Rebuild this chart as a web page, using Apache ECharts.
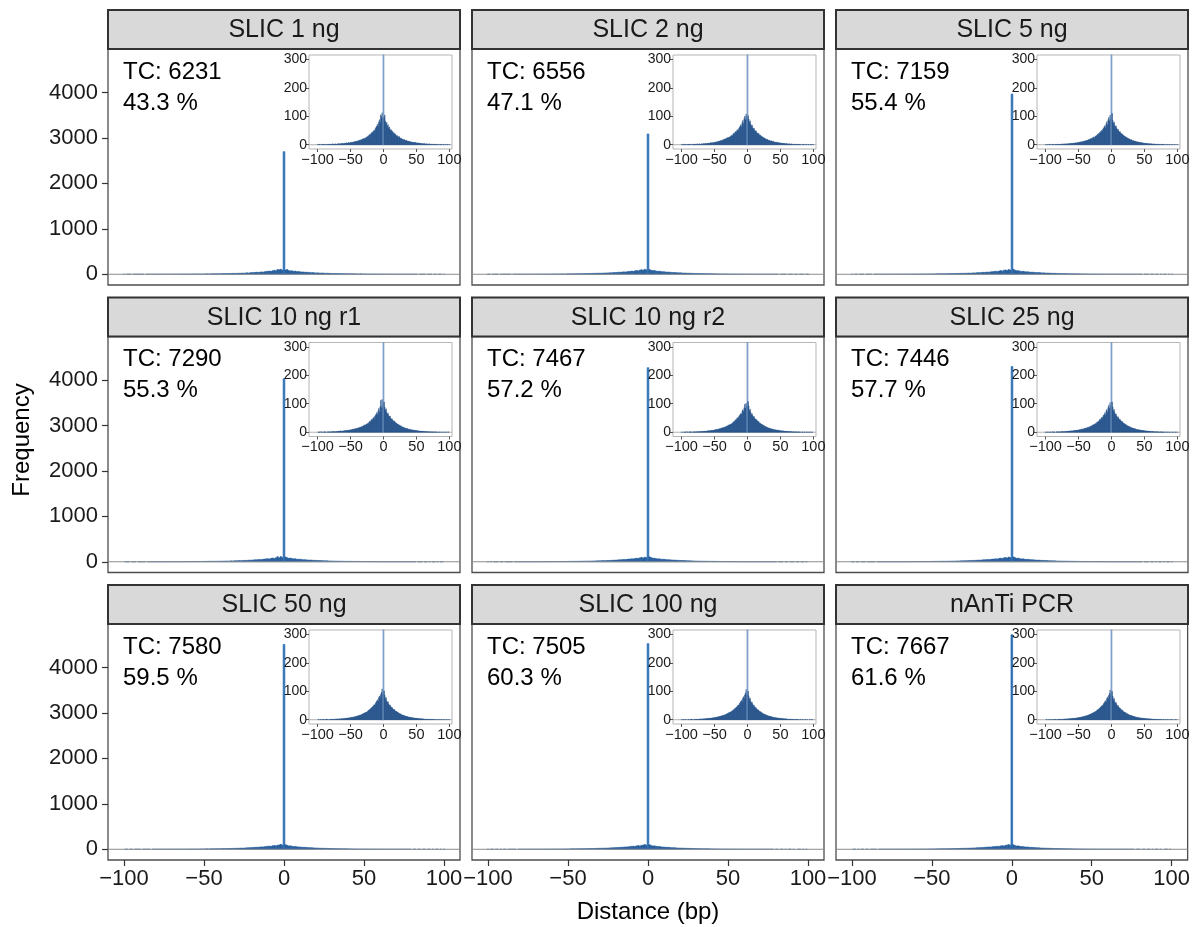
<!DOCTYPE html>
<html><head><meta charset="utf-8">
<script src="https://cdn.jsdelivr.net/npm/echarts@6/dist/echarts.min.js"></script>
<style>html,body{margin:0;padding:0;background:#fff}#chart{width:1193px;height:927px}</style>
</head><body><div id="chart"></div>
<script>
// ---------------- DATA ----------------
const panelNames = ['SLIC 1 ng','SLIC 2 ng','SLIC 5 ng','SLIC 10 ng r1','SLIC 10 ng r2','SLIC 25 ng','SLIC 50 ng','SLIC 100 ng','nAnTi PCR'];
const tcCounts = [6231,6556,7159,7290,7467,7446,7580,7505,7667];
const pctLabels = ['43.3 %','47.1 %','55.4 %','55.3 %','57.2 %','57.7 %','59.5 %','60.3 %','61.6 %'];
const distanceStart = -100; // first bin (bp); bins are 1 bp wide
const mainXTicks = [-100,-50,0,50,100];
const mainYTicks = [0,1000,2000,3000,4000];
const insetXTicks = [-100,-50,0,50,100];
const insetYTicks = [0,100,200,300];

const freq_slic_1ng = [
1,0,2,1,1,0,1,2,1,1, 1,2,1,0,2,1,1,2,1,2, 2,1,2,3,1,2,2,3,2,1, 3,2,4,3,2,4,3,5,4,3,
5,4,6,5,7,5,6,8,6,7, 8,7,9,8,10,9,11,10,12,11, 13,12,15,14,16,15,18,17,20,19, 22,20,24,23,27,25,29,32,28,35,
38,36,42,45,40,48,52,47,58,62, 66,72,64,80,88,76,105,98,112,92,
2698,
95,104,82,74,78,65,70,58,62,54, 50,52,45,47,40,42,36,38,33,30, 32,28,26,29,24,22,23,20,19,18, 17,18,15,14,16,13,12,13,11,10,
11,9,10,8,9,7,8,9,7,6, 7,5,6,6,5,4,5,4,3,4, 3,4,3,2,3,2,3,2,2,3, 2,1,2,2,1,2,1,2,1,1,
2,1,1,0,1,2,1,1,0,1, 1,1,0,1,1,0,1,1,0,1];
const freq_slic_2ng = [
1,1,0,2,1,1,2,0,1,1, 2,1,1,2,1,0,2,1,2,1, 2,2,1,2,3,2,1,3,2,2, 3,3,2,4,3,3,5,4,3,5,
4,6,5,5,7,6,8,7,6,8, 9,8,10,9,11,10,12,13,12,14, 15,14,16,18,17,19,21,20,23,22, 25,24,27,26,30,29,33,31,36,40,
38,43,46,44,50,53,49,57,61,66, 70,63,78,85,74,92,100,88,108,97,
3088,
102,90,80,84,72,66,69,60,56,58, 51,47,49,43,41,38,40,35,32,33, 30,27,28,25,23,24,21,20,18,19, 17,15,16,14,13,14,12,11,12,10,
9,10,8,9,8,7,8,6,7,6, 5,6,5,4,5,4,4,3,4,3, 3,2,3,3,2,2,3,2,1,2, 2,1,2,1,1,2,1,1,2,1,
1,0,1,1,2,1,0,1,1,1, 0,1,1,0,1,1,1,0,1,1];
const freq_slic_5ng = [
1,0,1,1,0,1,2,1,0,1, 1,1,2,0,1,1,1,2,1,1, 2,1,1,2,2,1,3,2,2,3, 2,3,3,2,4,3,3,4,5,4,
5,4,6,5,5,7,6,6,8,7, 8,9,8,10,9,11,10,12,11,13, 14,13,15,16,15,18,17,19,21,20, 23,22,25,27,24,28,31,29,34,37,
35,40,43,41,47,50,46,55,58,63, 67,60,74,81,70,88,96,84,104,91,
3966,
110,86,76,80,68,63,66,57,53,55, 48,45,46,41,39,36,37,33,30,31, 28,26,26,24,22,22,20,19,17,18, 16,14,15,13,12,13,11,10,11,9,
9,9,8,8,7,7,7,6,6,5, 5,5,4,4,4,4,3,3,3,3, 3,2,2,3,2,2,2,1,2,2, 1,2,1,1,1,2,1,1,1,1,
1,0,1,1,1,0,1,1,0,1, 1,0,1,0,1,1,0,1,0,1];
const freq_slic_10ng_r1 = [
0,1,1,1,0,2,1,1,0,1, 1,2,1,1,0,1,2,1,1,2, 1,2,2,1,3,2,2,1,3,2, 3,2,4,3,3,5,3,4,4,5,
4,6,5,7,5,6,8,6,7,8, 9,8,9,11,10,10,12,11,13,12, 14,15,14,17,16,18,17,20,19,22, 24,23,26,25,29,27,31,30,35,38,
36,41,45,42,48,52,47,56,60,64, 69,62,76,83,72,90,112,86,115,94,
4031,
106,88,78,82,70,64,67,58,55,57, 50,46,47,42,40,37,39,34,31,32, 29,26,27,25,22,23,21,19,18,18, 16,15,15,14,12,13,12,10,11,9,
9,10,8,8,7,8,6,7,6,6, 5,5,5,4,4,4,3,4,3,3, 3,2,3,2,2,3,2,1,2,2, 1,2,1,2,1,1,1,2,1,1,
1,1,0,1,1,1,0,1,1,0, 1,0,1,1,0,1,0,1,1,0];
const freq_slic_10ng_r2 = [
1,0,1,0,1,1,1,0,2,1, 0,1,1,2,1,1,0,1,2,1, 1,2,1,2,2,1,2,3,2,2, 2,3,3,3,2,4,3,4,3,5,
4,5,5,6,5,6,7,6,7,7, 8,9,9,10,9,11,10,12,12,13, 14,14,16,15,17,17,19,18,21,21, 23,24,26,25,28,28,30,31,34,37,
37,40,44,43,48,51,49,55,59,62, 66,63,73,79,74,86,98,85,102,93,
4271,
108,92,77,81,70,63,65,58,54,55, 49,46,46,42,40,37,38,33,31,31, 28,27,26,24,23,22,20,19,18,17, 16,15,14,14,12,12,11,11,10,9,
9,9,8,8,7,7,6,7,6,5, 5,5,4,5,4,3,4,3,3,3, 2,3,2,2,3,2,2,1,2,2, 1,1,2,1,1,1,2,1,1,1,
0,1,1,1,0,1,1,0,1,1, 1,0,1,1,0,1,1,0,1,0];
const freq_slic_25ng = [
1,1,0,1,1,0,1,1,1,0, 1,2,1,1,1,0,1,2,1,1, 2,1,2,1,2,2,3,2,1,3, 2,3,2,4,3,3,4,3,5,4,
5,4,6,5,6,6,7,7,6,8, 8,8,10,9,10,11,10,12,11,13, 13,15,14,16,17,16,19,18,20,22, 22,25,24,27,26,29,31,30,35,36,
38,39,45,42,47,52,48,54,60,61, 68,61,75,80,71,87,95,83,104,90,
4296,
106,89,75,80,69,62,64,57,52,54, 48,45,45,41,39,36,37,32,30,30, 28,26,25,23,22,21,20,18,17,17, 15,15,14,13,12,12,11,10,10,9,
8,9,8,7,7,7,6,6,6,5, 5,4,5,4,4,3,4,3,3,3, 2,3,2,2,2,2,1,2,2,1, 2,1,1,1,2,1,1,1,1,1,
1,0,1,1,1,0,1,1,0,1, 0,1,1,0,1,0,1,1,0,1];
const freq_slic_50ng = [
0,1,1,0,1,1,0,1,1,1, 1,0,1,1,2,1,1,0,1,2, 1,1,2,2,1,2,2,1,3,2, 2,3,2,3,3,2,4,3,3,4,
4,4,5,5,6,5,6,6,7,7, 7,8,9,8,10,9,10,11,11,12, 13,13,15,14,16,17,16,19,19,21, 22,24,23,26,27,26,30,32,33,36,
37,40,42,45,46,50,53,51,58,62, 66,70,64,78,83,76,89,96,108,92,
4510,
101,86,74,78,66,61,63,55,51,52, 46,44,43,39,37,35,35,31,29,29, 27,25,24,22,21,20,19,17,16,16, 15,14,13,12,12,11,10,10,9,9,
8,8,7,7,7,6,6,5,6,5, 4,5,4,4,3,4,3,3,3,2, 3,2,2,2,2,1,2,2,1,2, 1,1,2,1,1,1,1,1,1,0,
1,1,0,1,1,0,1,1,0,1, 1,0,1,0,1,1,0,1,0,1];
const freq_slic_100ng = [
1,0,1,1,0,1,1,0,1,0, 1,1,0,1,1,2,1,1,0,1, 2,1,1,2,2,1,2,2,2,3, 2,2,3,3,2,3,4,3,4,4,
4,5,4,5,6,5,6,7,6,7, 8,7,9,9,9,10,11,10,12,12, 13,14,14,15,16,17,17,18,20,21, 22,23,25,25,27,28,29,31,33,35,
37,39,41,44,45,49,52,50,57,60, 64,68,63,75,81,74,87,94,106,90,
4526,
100,84,72,76,65,60,61,54,50,51, 45,43,42,38,36,34,34,30,28,28, 26,24,23,21,20,19,18,17,16,15, 14,13,13,12,11,11,10,9,9,8,
8,7,7,7,6,6,6,5,5,5, 4,4,4,4,3,3,3,3,3,2, 2,2,2,2,2,2,1,2,1,1, 1,1,1,1,1,1,1,1,0,1,
1,0,1,1,0,1,0,1,1,0, 1,0,0,1,1,0,1,0,1,0];
const freq_nanti_pcr = [
0,1,1,0,1,0,1,1,0,1, 1,0,1,1,1,2,0,1,1,1, 1,2,1,1,2,2,1,2,2,3, 2,2,3,2,3,3,3,4,3,4,
4,5,4,5,5,6,5,6,7,7, 7,8,8,9,9,10,10,11,11,12, 13,13,14,15,15,17,17,18,19,21, 21,23,24,25,26,28,29,30,33,35,
36,38,41,43,45,48,51,49,56,59, 63,67,62,74,80,73,85,93,104,89,
4723,
99,83,71,75,64,59,60,53,49,50, 44,42,41,37,35,33,33,29,27,27, 25,23,22,21,19,18,17,16,15,15, 14,13,12,11,11,10,10,9,8,8,
7,7,7,6,6,6,5,5,5,4, 4,4,4,3,3,3,3,3,2,3, 2,2,2,2,1,2,2,1,2,1, 1,1,1,1,1,1,0,1,1,1,
0,1,1,0,1,1,0,1,0,1, 1,0,1,0,0,1,1,0,1,0];

const panelFreqs = [freq_slic_1ng,freq_slic_2ng,freq_slic_5ng,freq_slic_10ng_r1,freq_slic_10ng_r2,freq_slic_25ng,freq_slic_50ng,freq_slic_100ng,freq_nanti_pcr];

// ---------------- LAYOUT ----------------
const FONT = '"Liberation Sans", Arial, Helvetica, sans-serif';
const colLeft = [108, 472, 836], panelW = 352;
const rowTop = [10, 297.5, 585], stripH = 39, plotH = 236;
const inset = {dx: 201, dy: 6, w: 143, h: 94};
const mainX = {min: -110, max: 110};
const mainY = {min: -236, max: 4959};
const insX = {min: -113, max: 104};
const insY = {min: -15, max: 315};

const minusFmt = v => (v < 0 ? '\u2212' + Math.abs(v) : String(v));
const plainFmt = v => String(v);

function makeRender(fill, spikeFill, lw, spikeLw) {
  return function (params, api) {
    const x = api.value(0), y = api.value(1);
    if (!y) return null;
    const a = api.coord([x - 0.5, y]);
    const b = api.coord([x + 0.5, 0]);
    const cs = params.coordSys;
    const r = echarts.graphic.clipRectByRect(
      {x: a[0], y: a[1], width: b[0] - a[0], height: b[1] - a[1]},
      {x: cs.x, y: cs.y, width: cs.width, height: cs.height});
    if (!r) return null;
    const sp = x === 0;
    return {type: 'rect', shape: r,
      style: {fill: sp ? spikeFill : fill, stroke: sp ? spikeFill : fill, lineWidth: sp ? spikeLw : lw}};
  };
}

const grids = [], xAxes = [], yAxes = [], series = [], graphics = [];

panelNames.forEach((name, i) => {
  const r = Math.floor(i / 3), c = i % 3;
  const left = colLeft[c], top = rowTop[r] + stripH;
  const isBottom = r === 2, isLeft = c === 0;
  const data = panelFreqs[i].map((v, k) => [distanceStart + k, v]);

  // main panel
  grids.push({left: left, top: top, width: panelW, height: plotH, show: true,
    borderColor: '#4d4d4d', borderWidth: 1.3, backgroundColor: 'transparent'});
  xAxes.push({type: 'value', gridIndex: i, min: mainX.min, max: mainX.max, position: 'bottom',
    axisLine: {show: false, onZero: false}, splitLine: {show: false},
    axisTick: {show: isBottom, customValues: mainXTicks, length: 6, lineStyle: {color: '#333', width: 1.2}},
    axisLabel: {show: isBottom, customValues: mainXTicks, formatter: minusFmt, fontSize: 22, fontFamily: FONT, color: '#1a1a1a', margin: 8}});
  yAxes.push({type: 'value', gridIndex: i, min: mainY.min, max: mainY.max, position: 'left',
    axisLine: {show: false, onZero: false}, splitLine: {show: false},
    axisTick: {show: isLeft, customValues: mainYTicks, length: 6, lineStyle: {color: '#333', width: 1.2}},
    axisLabel: {show: isLeft, customValues: mainYTicks, formatter: plainFmt, fontSize: 22, fontFamily: FONT, color: '#1a1a1a', margin: 10}});
  series.push({type: 'custom', xAxisIndex: i, yAxisIndex: i, coordinateSystem: 'cartesian2d',
    data: data, encode: {x: 0, y: 1}, silent: true, z: 3,
    renderItem: makeRender('#245d9c', '#2b6db4', 0.5, 0.8)});
  series.push({type: 'line', xAxisIndex: i, yAxisIndex: i, data: [[mainX.min, 0], [mainX.max, 0]],
    symbol: 'none', silent: true, z: 4, lineStyle: {color: '#8c8c8c', width: 1}});

  // strip
  graphics.push({type: 'rect', shape: {x: left, y: rowTop[r], width: panelW, height: stripH},
    style: {fill: '#d9d9d9', stroke: '#333333', lineWidth: 2}, silent: true, z: 10});
  graphics.push({type: 'text', x: left + panelW / 2, y: rowTop[r] + stripH / 2 + 1,
    style: {text: name, font: '25px ' + FONT, fill: '#1a1a1a', align: 'center', verticalAlign: 'middle',
      textAlign: 'center', textVerticalAlign: 'middle'}, silent: true, z: 11});
  // TC / percent labels
  graphics.push({type: 'text', x: left + 15, y: top + 23,
    style: {text: 'TC: ' + tcCounts[i], font: '24px ' + FONT, fill: '#000', align: 'left', verticalAlign: 'middle',
      textAlign: 'left', textVerticalAlign: 'middle'}, silent: true, z: 11});
  graphics.push({type: 'text', x: left + 15, y: top + 54,
    style: {text: pctLabels[i], font: '24px ' + FONT, fill: '#000', align: 'left', verticalAlign: 'middle',
      textAlign: 'left', textVerticalAlign: 'middle'}, silent: true, z: 11});
});

panelNames.forEach((name, i) => {
  const r = Math.floor(i / 3), c = i % 3;
  const gi = 9 + i;
  const left = colLeft[c] + inset.dx, top = rowTop[r] + stripH + inset.dy;
  const data = panelFreqs[i].map((v, k) => [distanceStart + k, v]);
  grids.push({left: left, top: top, width: inset.w, height: inset.h, show: true,
    borderColor: '#b5b5b5', borderWidth: 1, backgroundColor: '#ffffff', z: 5});
  xAxes.push({type: 'value', gridIndex: gi, min: insX.min, max: insX.max, position: 'bottom',
    axisLine: {show: false, onZero: false}, splitLine: {show: false}, z: 6,
    axisTick: {show: true, customValues: insetXTicks, length: 3, lineStyle: {color: '#555', width: 1}},
    axisLabel: {show: true, customValues: insetXTicks, formatter: minusFmt, fontSize: 14.5, fontFamily: FONT, color: '#1a1a1a', margin: 3}});
  yAxes.push({type: 'value', gridIndex: gi, min: insY.min, max: insY.max, position: 'left',
    axisLine: {show: false, onZero: false}, splitLine: {show: false}, z: 6,
    axisTick: {show: true, customValues: insetYTicks, length: 3, lineStyle: {color: '#555', width: 1}},
    axisLabel: {show: true, customValues: insetYTicks, formatter: plainFmt, fontSize: 14, fontFamily: FONT, color: '#1a1a1a', margin: 2}});
  series.push({type: 'line', xAxisIndex: gi, yAxisIndex: gi, data: [[insX.min, 0], [insX.max, 0]],
    symbol: 'none', silent: true, z: 6, lineStyle: {color: '#b0b0b0', width: 1}});
  series.push({type: 'custom', xAxisIndex: gi, yAxisIndex: gi, coordinateSystem: 'cartesian2d',
    data: data, encode: {x: 0, y: 1}, silent: true, z: 7,
    renderItem: makeRender('#1f4f88', '#7fa0ca', 0.35, 1.1)});
});

// axis titles
graphics.push({type: 'text', x: 648, y: 912,
  style: {text: 'Distance (bp)', font: '24px ' + FONT, fill: '#000', align: 'center', verticalAlign: 'middle',
    textAlign: 'center', textVerticalAlign: 'middle'}, silent: true});
graphics.push({type: 'text', x: 22, y: 440, rotation: Math.PI / 2,
  style: {text: 'Frequency', font: '24px ' + FONT, fill: '#000', align: 'center', verticalAlign: 'middle',
    textAlign: 'center', textVerticalAlign: 'middle'}, silent: true});

const chart = echarts.init(document.getElementById('chart'), null, {renderer: 'canvas'});
chart.setOption({
  animation: false,
  backgroundColor: '#ffffff',
  grid: grids, xAxis: xAxes, yAxis: yAxes, series: series, graphic: graphics
});
</script></body></html>
